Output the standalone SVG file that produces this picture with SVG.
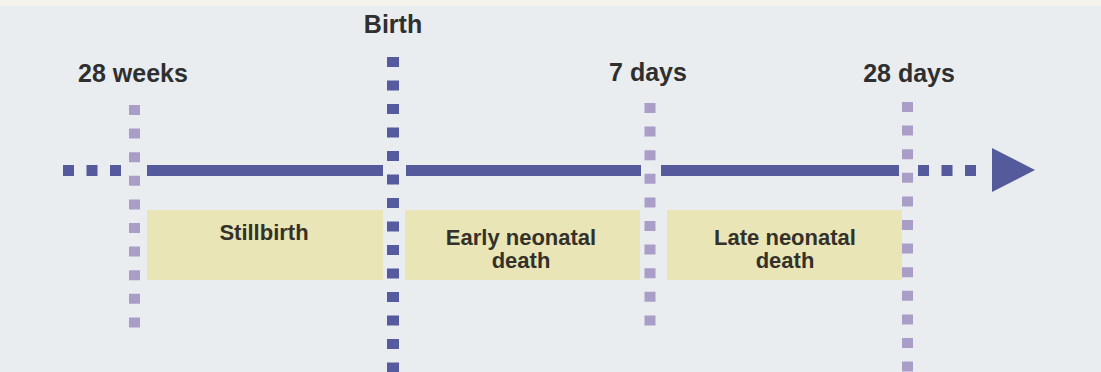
<svg xmlns="http://www.w3.org/2000/svg" width="1101" height="372" viewBox="0 0 1101 372">
  <style>
    .lbl { font-family: "Liberation Sans", Arial, sans-serif; font-weight: bold; font-size: 25px; fill: #2f2f2f; text-anchor: middle; }
    .box-t { font-family: "Liberation Sans", Arial, sans-serif; font-weight: bold; font-size: 22px; fill: #33312a; text-anchor: middle; }
    .box { fill: #e9e5b6; }
    .axis { fill: #555a9d; }
    .dash-h { stroke: #555a9d; stroke-width: 11; stroke-dasharray: 11 12.5; fill: none; }
    .vline-light { stroke: #aa9ec9; stroke-width: 11; stroke-dasharray: 10 13.6; fill: none; }
    .vline-dark { stroke: #565a9e; stroke-width: 12; stroke-dasharray: 10 13.5; fill: none; }
  </style>
  <rect x="0" y="0" width="1101" height="372" fill="#e9edef"/>
  <rect x="0" y="0" width="1101" height="6" fill="#f3f3ec"/>

  <g id="connectors">
    <line class="vline-light" x1="134.5" y1="105" x2="134.5" y2="330"/>
    <line class="vline-dark" x1="393" y1="57" x2="393" y2="372"/>
    <line class="vline-light" x1="650" y1="103" x2="650" y2="330"/>
    <line class="vline-light" x1="907.5" y1="102" x2="907.5" y2="372"/>
    <line class="dash-h" x1="63" y1="170.5" x2="122" y2="170.5"/>
    <rect class="axis" x="147" y="165" width="236" height="11"/>
    <rect class="axis" x="406" y="165" width="235" height="11"/>
    <rect class="axis" x="661" y="165" width="238" height="11"/>
    <line class="dash-h" x1="918" y1="170.5" x2="977" y2="170.5"/>
    <polygon class="axis" points="992,148 1035,170 992,192"/>
  </g>

  <g id="label-28weeks"><text class="lbl" x="133" y="82">28 weeks</text></g>
  <g id="label-birth"><text class="lbl" x="393" y="33">Birth</text></g>
  <g id="label-7days"><text class="lbl" x="648" y="81">7 days</text></g>
  <g id="label-28days"><text class="lbl" x="909" y="82">28 days</text></g>

  <g id="stillbirth">
    <rect class="box" x="147" y="210" width="236" height="70"/>
    <text class="box-t" x="264" y="240">Stillbirth</text>
  </g>
  <g id="early-neonatal-death">
    <rect class="box" x="405" y="210" width="235" height="70"/>
    <text class="box-t" x="521" y="245">Early neonatal</text>
    <text class="box-t" x="521" y="268">death</text>
  </g>
  <g id="late-neonatal-death">
    <rect class="box" x="667" y="210" width="235" height="70"/>
    <text class="box-t" x="785" y="245">Late neonatal</text>
    <text class="box-t" x="785" y="268">death</text>
  </g>
</svg>
